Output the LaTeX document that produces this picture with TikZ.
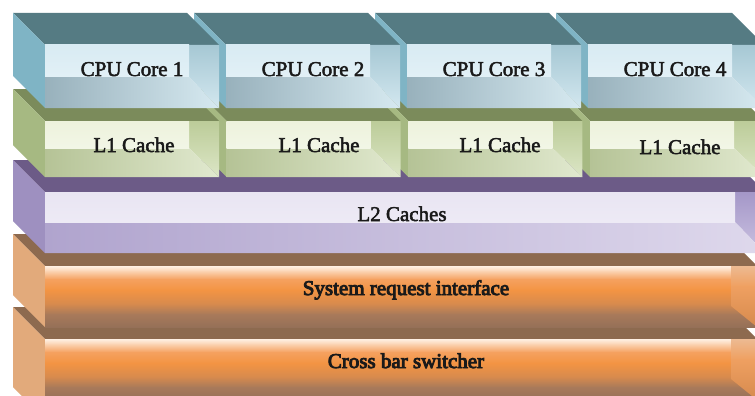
\documentclass[tikz,border=0pt]{standalone}
\usepackage{fontspec}
\setmainfont{Liberation Serif}

% slightly heavier lettering: fill and stroke the glyph outlines
\newcommand\heavy[2]{\special{pdf:literal direct 2 Tr #1 w}#2\special{pdf:literal direct 0 Tr 1 w}}

% colour families: top face, left face, inner panel, bottom bevel, right bevel
\definecolor{cpuTop}{HTML}{557B83}
\definecolor{cpuLeft}{HTML}{7FB4C5}
\definecolor{cpuInT}{HTML}{D8EBF3}
\definecolor{cpuInB}{HTML}{E2F0F6}
\definecolor{cpuBotL}{HTML}{98B1BC}
\definecolor{cpuBotR}{HTML}{D6E9F0}
\definecolor{cpuRT}{HTML}{A6C8D4}
\definecolor{cpuRB}{HTML}{D3E7EF}

\definecolor{lonTop}{HTML}{7B8B5B}
\definecolor{lonLeft}{HTML}{A6B982}
\definecolor{lonInT}{HTML}{EDF2DC}
\definecolor{lonInB}{HTML}{F2F6E6}
\definecolor{lonBotL}{HTML}{B5C396}
\definecolor{lonBotR}{HTML}{E1E9CF}
\definecolor{lonRT}{HTML}{BCCC99}
\definecolor{lonRB}{HTML}{DCE6C6}

\definecolor{ltwTop}{HTML}{6C5B87}
\definecolor{ltwLeft}{HTML}{9E90C0}
\definecolor{ltwInT}{HTML}{E9E5F2}
\definecolor{ltwInB}{HTML}{EDEAF5}
\definecolor{ltwBotL}{HTML}{B0A4CE}
\definecolor{ltwBotR}{HTML}{DED8EC}
\definecolor{ltwRT}{HTML}{A497C8}
\definecolor{ltwRB}{HTML}{CBC2E1}

\definecolor{orTop}{HTML}{8D6A4F}
\definecolor{orLeft}{HTML}{E2AA7B}
\definecolor{orA}{HTML}{FFF2E6}
\definecolor{orB}{HTML}{FBD3B2}
\definecolor{orC}{HTML}{F5A160}
\definecolor{orD}{HTML}{F39443}
\definecolor{orE}{HTML}{D68A4E}
\definecolor{orF}{HTML}{A97A5A}
\definecolor{orG}{HTML}{957058}
\definecolor{orRT}{HTML}{EDBA92}
\definecolor{orRM}{HTML}{EFA061}
\definecolor{txt}{HTML}{1A1A1A}

% beveled slab: #1 front x0, #2 front y0, #3 front x1, #4 front y1,
% #5 inner panel right x, #6 inner panel bottom y, #7 colour family
\newcommand\bevelslab[7]{%
  \fill[#7Top] ({#1-32},{#2-32}) -- ({#3-32},{#2-32}) -- (#3,#2) -- (#1,#2) -- cycle;
  \fill[#7Left] ({#1-32},{#2-32}) -- (#1,#2) -- (#1,#4) -- ({#1-32},{#4-32}) -- cycle;
  \shade[top color=#7RT, bottom color=#7RB] (#5,#2) -- (#3,#2) -- (#3,#4) -- (#5,#6) -- cycle;
  \shade[left color=#7BotL, right color=#7BotR] (#1,#6) -- (#5,#6) -- (#3,#4) -- (#1,#4) -- cycle;
  \shade[top color=#7InT, bottom color=#7InB] (#1,#2) rectangle (#5,#6);
}

% orange slab: #1 front x0, #2 front y0, #3 front x1, #4 front y1, #5 right bevel x
\newcommand\orangeslab[5]{%
  \fill[orTop] ({#1-32},{#2-32}) -- ({#3-32},{#2-32}) -- (#3,#2) -- (#1,#2) -- cycle;
  \fill[orLeft] ({#1-32},{#2-32}) -- (#1,#2) -- (#1,#4) -- ({#1-32},{#4-32}) -- cycle;
  \begin{scope}
    \clip (#1,#2) rectangle (#3,#4);
    \shade[top color=orA, bottom color=orB] (#1,{#2-0.3}) rectangle (#3,{#2+5.3});
    \shade[top color=orB, bottom color=orC] (#1,{#2+5}) rectangle (#3,{#2+13.3});
    \shade[top color=orC, bottom color=orD] (#1,{#2+13}) rectangle (#3,{#2+24.3});
    \shade[top color=orD, bottom color=orE] (#1,{#2+24}) rectangle (#3,{#2+38.3});
    \shade[top color=orE, bottom color=orF] (#1,{#2+38}) rectangle (#3,{#2+48.3});
    \shade[top color=orF, bottom color=orG] (#1,{#2+48}) rectangle (#3,{#2+61});
    \fill[orG] (#1,{#2+60.7}) rectangle (#3,{#4+1});
    % right bevel
    \shade[top color=orRT, bottom color=orRM] (#5,#2) rectangle (#3,{#2+20.3});
    \shade[top color=orRM, bottom color=orE] (#5,{#2+20}) -- (#3,{#2+20}) -- (#3,{#2+61}) -- (#5,{#2+40}) -- cycle;
  \end{scope}
}

\begin{document}
\begin{tikzpicture}[x=1pt, y=-1pt,
    lbl/.style={font=\fontsize{21}{21}\selectfont, text=txt, inner sep=0pt, anchor=base}]
  \useasboundingbox (0,0) rectangle (755,396);
  \fill[white] (0,0) rectangle (755,396);
  \clip (0,0) rectangle (755,396);

  % bottom layers first, so that upper layers hide their top faces
  \orangeslab{45}{339}{757}{419}{731}
  \orangeslab{45}{266}{757}{327}{731}
  \bevelslab{45}{192}{765}{253}{735}{222}{ltw}

  % L1 caches, right to left
  \foreach \k in {3,2,1,0} {
    \pgfmathsetmacro\xa{45+181.7*\k}
    \pgfmathsetmacro\xb{\xa+174}
    \pgfmathsetmacro\xi{\xb-30}
    \bevelslab{\xa}{121}{\xb}{177}{\xi}{148}{lon}
  }

  % CPU cores, right to left
  \foreach \k in {3,2,1,0} {
    \pgfmathsetmacro\xa{45+181*\k}
    \pgfmathsetmacro\xb{\xa+174+2*(\k==3)}
    \pgfmathsetmacro\xi{\xb-30-2*(\k==3)}
    \bevelslab{\xa}{45}{\xb}{108}{\xi}{77}{cpu}
  }

  % labels
  \node[lbl] (core1) at (132,76) {\heavy{0.5}{CPU Core 1}};
  \node[lbl] (core2) at (313,76) {\heavy{0.5}{CPU Core 2}};
  \node[lbl] (core3) at (494,76) {\heavy{0.5}{CPU Core 3}};
  \node[lbl] (core4) at (675,76) {\heavy{0.5}{CPU Core 4}};
  \node[lbl] (lone1) at (134,152) {\heavy{0.5}{L1 Cache}};
  \node[lbl] (lone2) at (319,152) {\heavy{0.5}{L1 Cache}};
  \node[lbl] (lone3) at (500,152) {\heavy{0.5}{L1 Cache}};
  \node[lbl] (lone4) at (680,154) {\heavy{0.5}{L1 Cache}};
  \node[lbl] (ltwo) at (402,221) {\heavy{0.5}{L2 Caches}};
  \node[lbl] (sri) at (406,295) {\heavy{0.9}{System request interface}};
  \node[lbl] (xbar) at (406,368) {\heavy{0.9}{Cross bar switcher}};
\end{tikzpicture}
\end{document}
